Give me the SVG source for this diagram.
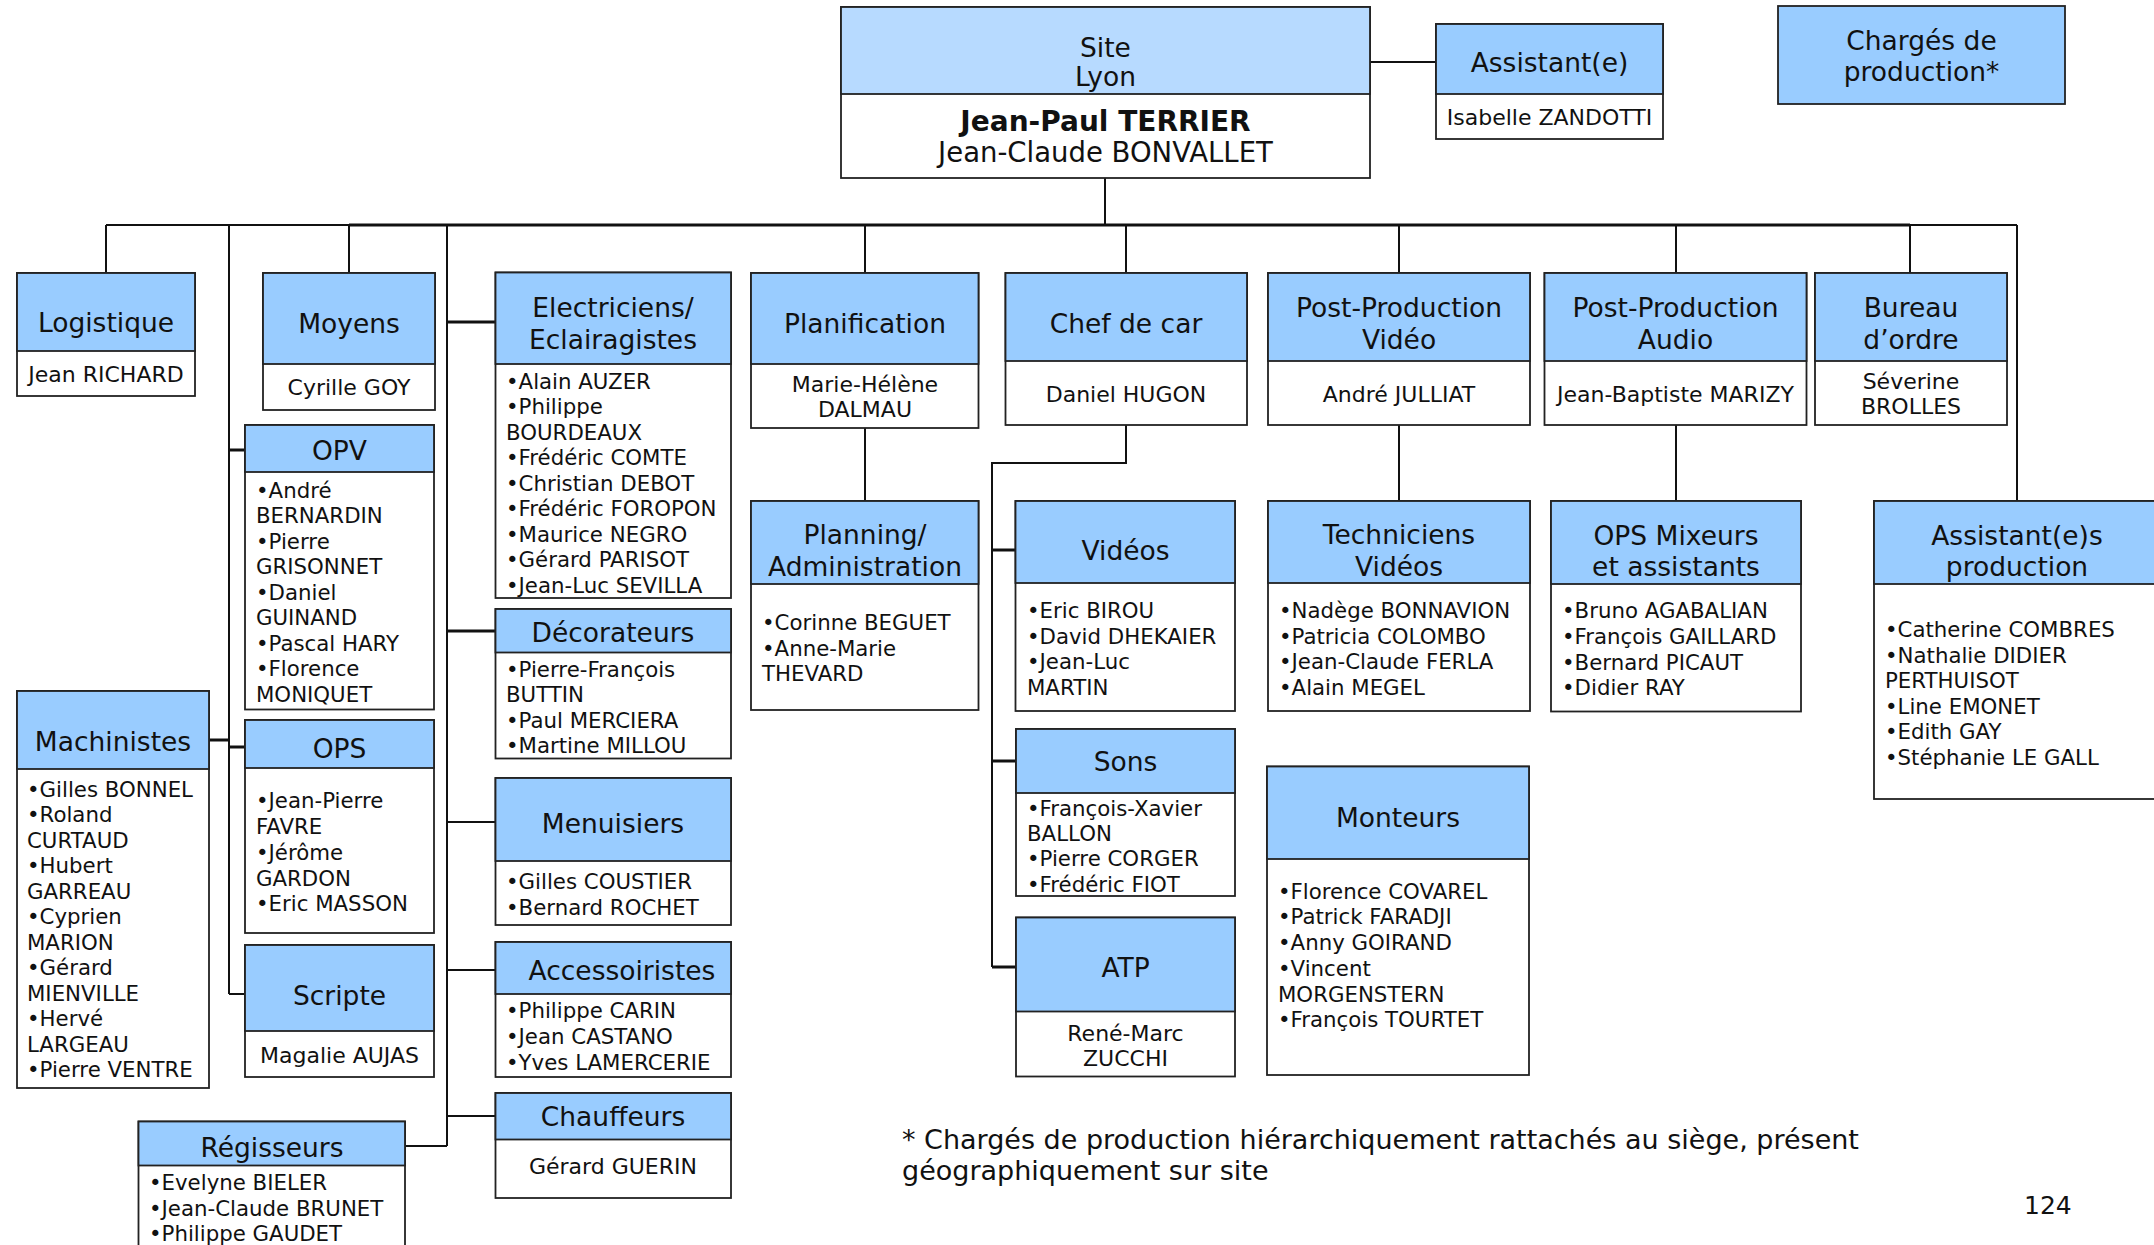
<svg xmlns="http://www.w3.org/2000/svg" width="2154" height="1245" viewBox="0 0 2154 1245">
<style>
  .bx { fill:#ffffff; stroke:#222222; stroke-width:1.8; }
  .hd { fill:#99CCFF; stroke:#222222; stroke-width:1.8; }
  .hs { fill:#B7DAFF; stroke:#222222; stroke-width:1.8; }
  text { font-family:"DejaVu Sans", Verdana, sans-serif; fill:#111111; }
  .h { font-size:26.5px; text-anchor:middle; }
  .n { font-size:22px; text-anchor:middle; }
  .l { font-size:21.3px; }
  .c { fill:none; stroke:#111111; stroke-width:2; }
  .t { fill:none; stroke:#111111; stroke-width:3; }
</style>
<rect width="2154" height="1245" fill="#ffffff"/>

<g id="connectors">
  <line class="c" x1="1370" y1="62" x2="1436" y2="62"/>
  <line class="c" x1="1105" y1="178" x2="1105" y2="225"/>
  <line class="c" x1="106" y1="225" x2="349" y2="225"/>
  <line class="t" x1="349" y1="225" x2="1910" y2="225"/>
  <line class="c" x1="1910" y1="225" x2="2017" y2="225"/>
  <line class="c" x1="106" y1="225" x2="106" y2="273"/>
  <line class="c" x1="229" y1="225" x2="229" y2="994"/>
  <line class="t" x1="229" y1="450" x2="245" y2="450"/>
  <line class="t" x1="209" y1="740" x2="229" y2="740"/>
  <line class="t" x1="229" y1="747" x2="245" y2="747"/>
  <line class="c" x1="229" y1="994" x2="245" y2="994"/>
  <line class="c" x1="349" y1="225" x2="349" y2="273"/>
  <line class="c" x1="447" y1="225" x2="447" y2="1146"/>
  <line class="t" x1="447" y1="322" x2="495.5" y2="322"/>
  <line class="t" x1="447" y1="631" x2="495.5" y2="631"/>
  <line class="c" x1="447" y1="822" x2="495.5" y2="822"/>
  <line class="c" x1="447" y1="970" x2="495.5" y2="970"/>
  <line class="c" x1="447" y1="1116" x2="495.5" y2="1116"/>
  <line class="c" x1="405" y1="1146" x2="447" y2="1146"/>
  <line class="c" x1="865" y1="225" x2="865" y2="273"/>
  <line class="c" x1="865" y1="428" x2="865" y2="501"/>
  <line class="c" x1="1126" y1="225" x2="1126" y2="273"/>
  <polyline class="c" points="1126,425 1126,463 992,463 992,967"/>
  <line class="t" x1="992" y1="550" x2="1016" y2="550"/>
  <line class="t" x1="992" y1="761" x2="1016" y2="761"/>
  <line class="t" x1="992" y1="967" x2="1016" y2="967"/>
  <line class="c" x1="1399" y1="225" x2="1399" y2="273"/>
  <line class="c" x1="1399" y1="425" x2="1399" y2="501"/>
  <line class="c" x1="1676" y1="225" x2="1676" y2="273"/>
  <line class="c" x1="1676" y1="425" x2="1676" y2="501"/>
  <line class="c" x1="1910" y1="225" x2="1910" y2="273"/>
  <line class="c" x1="2017" y1="225" x2="2017" y2="501"/>
</g>

<g id="site">
  <rect class="bx" x="841" y="7" width="529" height="171"/>
  <rect class="hs" x="841" y="7" width="529" height="87"/>
  <text class="h" x="1105.5" y="57">Site</text>
  <text class="h" x="1105.5" y="86">Lyon</text>
  <text x="1105.5" y="131" font-size="28" font-weight="bold" text-anchor="middle">Jean-Paul TERRIER</text>
  <text x="1105.5" y="162" font-size="27.5" text-anchor="middle">Jean-Claude BONVALLET</text>
</g>

<g id="assistant">
  <rect class="bx" x="1436" y="24" width="227" height="115"/>
  <rect class="hd" x="1436" y="24" width="227" height="70"/>
  <text class="h" x="1549.5" y="72">Assistant(e)</text>
  <text class="n" x="1549.5" y="125">Isabelle ZANDOTTI</text>
</g>

<g id="charges">
  <rect class="hd" x="1778" y="6" width="287" height="98"/>
  <text class="h" x="1921.5" y="50">Chargés de</text>
  <text class="h" x="1921.5" y="81">production*</text>
</g>

<g id="logistique">
  <rect class="bx" x="17" y="273" width="178" height="123"/>
  <rect class="hd" x="17" y="273" width="178" height="78"/>
  <text class="h" x="106" y="332">Logistique</text>
  <text class="n" x="106" y="382">Jean RICHARD</text>
</g>

<g id="moyens">
  <rect class="bx" x="263" y="273" width="172" height="137"/>
  <rect class="hd" x="263" y="273" width="172" height="91"/>
  <text class="h" x="349" y="333">Moyens</text>
  <text class="n" x="349" y="395">Cyrille GOY</text>
</g>

<g id="electriciens">
  <rect class="bx" x="495.5" y="272.5" width="235.5" height="325.5"/>
  <rect class="hd" x="495.5" y="272.5" width="235.5" height="91.5"/>
  <text class="h" x="613" y="317">Electriciens/</text>
  <text class="h" x="613" y="348.5">Eclairagistes</text>
  <text class="l" x="506" y="388.5">•Alain AUZER</text>
  <text class="l" x="506" y="414">•Philippe</text>
  <text class="l" x="506" y="439.5">BOURDEAUX</text>
  <text class="l" x="506" y="465">•Frédéric COMTE</text>
  <text class="l" x="506" y="490.5">•Christian DEBOT</text>
  <text class="l" x="506" y="516">•Frédéric FOROPON</text>
  <text class="l" x="506" y="541.5">•Maurice NEGRO</text>
  <text class="l" x="506" y="567">•Gérard PARISOT</text>
  <text class="l" x="506" y="592.5">•Jean-Luc SEVILLA</text>
</g>

<g id="planification">
  <rect class="bx" x="751" y="273" width="227.5" height="155"/>
  <rect class="hd" x="751" y="273" width="227.5" height="91"/>
  <text class="h" x="865" y="333">Planification</text>
  <text class="n" x="865" y="391.5">Marie-Hélène</text>
  <text class="n" x="865" y="416.5">DALMAU</text>
</g>

<g id="chef-de-car">
  <rect class="bx" x="1005.5" y="273" width="241.5" height="152"/>
  <rect class="hd" x="1005.5" y="273" width="241.5" height="88"/>
  <text class="h" x="1126" y="333">Chef de car</text>
  <text class="n" x="1126" y="401.5">Daniel HUGON</text>
</g>

<g id="pp-video">
  <rect class="bx" x="1268" y="273" width="262" height="152"/>
  <rect class="hd" x="1268" y="273" width="262" height="88"/>
  <text class="h" x="1399" y="317">Post-Production</text>
  <text class="h" x="1399" y="348.5">Vidéo</text>
  <text class="n" x="1399" y="401.5">André JULLIAT</text>
</g>

<g id="pp-audio">
  <rect class="bx" x="1544.5" y="273" width="262" height="152"/>
  <rect class="hd" x="1544.5" y="273" width="262" height="88"/>
  <text class="h" x="1675.5" y="317">Post-Production</text>
  <text class="h" x="1675.5" y="348.5">Audio</text>
  <text class="n" x="1675.5" y="401.5">Jean-Baptiste MARIZY</text>
</g>

<g id="bureau-ordre">
  <rect class="bx" x="1815" y="273" width="192" height="152"/>
  <rect class="hd" x="1815" y="273" width="192" height="88"/>
  <text class="h" x="1911" y="317">Bureau</text>
  <text class="h" x="1911" y="348.5">d’ordre</text>
  <text class="n" x="1911" y="389">Séverine</text>
  <text class="n" x="1911" y="414">BROLLES</text>
</g>

<g id="opv">
  <rect class="bx" x="245" y="425" width="189" height="284.5"/>
  <rect class="hd" x="245" y="425" width="189" height="47"/>
  <text class="h" x="339.5" y="459.5">OPV</text>
  <text class="l" x="256" y="497.5">•André</text>
  <text class="l" x="256" y="523">BERNARDIN</text>
  <text class="l" x="256" y="548.5">•Pierre</text>
  <text class="l" x="256" y="574">GRISONNET</text>
  <text class="l" x="256" y="599.5">•Daniel</text>
  <text class="l" x="256" y="625">GUINAND</text>
  <text class="l" x="256" y="650.5">•Pascal HARY</text>
  <text class="l" x="256" y="676">•Florence</text>
  <text class="l" x="256" y="701.5">MONIQUET</text>
</g>

<g id="planning">
  <rect class="bx" x="751" y="501" width="227.5" height="209"/>
  <rect class="hd" x="751" y="501" width="227.5" height="83"/>
  <text class="h" x="865" y="544">Planning/</text>
  <text class="h" x="865" y="575.5">Administration</text>
  <text class="l" x="762" y="630">•Corinne BEGUET</text>
  <text class="l" x="762" y="655.5">•Anne-Marie</text>
  <text class="l" x="762" y="681">THEVARD</text>
</g>

<g id="videos">
  <rect class="bx" x="1015.5" y="501" width="219.5" height="210"/>
  <rect class="hd" x="1015.5" y="501" width="219.5" height="82"/>
  <text class="h" x="1125.5" y="560">Vidéos</text>
  <text class="l" x="1027" y="618">•Eric BIROU</text>
  <text class="l" x="1027" y="643.5">•David DHEKAIER</text>
  <text class="l" x="1027" y="669">•Jean-Luc</text>
  <text class="l" x="1027" y="694.5">MARTIN</text>
</g>

<g id="techniciens-videos">
  <rect class="bx" x="1268" y="501" width="262" height="210"/>
  <rect class="hd" x="1268" y="501" width="262" height="82"/>
  <text class="h" x="1399" y="544">Techniciens</text>
  <text class="h" x="1399" y="575.5">Vidéos</text>
  <text class="l" x="1279" y="618">•Nadège BONNAVION</text>
  <text class="l" x="1279" y="643.5">•Patricia COLOMBO</text>
  <text class="l" x="1279" y="669">•Jean-Claude FERLA</text>
  <text class="l" x="1279" y="694.5">•Alain MEGEL</text>
</g>

<g id="ops-mixeurs">
  <rect class="bx" x="1551" y="501" width="250" height="210.5"/>
  <rect class="hd" x="1551" y="501" width="250" height="83"/>
  <text class="h" x="1676" y="544.5">OPS Mixeurs</text>
  <text class="h" x="1676" y="575.5">et assistants</text>
  <text class="l" x="1562" y="618">•Bruno AGABALIAN</text>
  <text class="l" x="1562" y="644">•François GAILLARD</text>
  <text class="l" x="1562" y="669.5">•Bernard PICAUT</text>
  <text class="l" x="1562" y="695">•Didier RAY</text>
</g>

<g id="assistants-production">
  <rect class="bx" x="1874" y="501" width="290" height="298"/>
  <rect class="hd" x="1874" y="501" width="290" height="83"/>
  <text class="h" x="2017" y="544.5">Assistant(e)s</text>
  <text class="h" x="2017" y="575.5">production</text>
  <text class="l" x="1885" y="637">•Catherine COMBRES</text>
  <text class="l" x="1885" y="662.5">•Nathalie DIDIER</text>
  <text class="l" x="1885" y="688">PERTHUISOT</text>
  <text class="l" x="1885" y="713.5">•Line EMONET</text>
  <text class="l" x="1885" y="739">•Edith GAY</text>
  <text class="l" x="1885" y="764.5">•Stéphanie LE GALL</text>
</g>

<g id="machinistes">
  <rect class="bx" x="17" y="691" width="192" height="397"/>
  <rect class="hd" x="17" y="691" width="192" height="78"/>
  <text class="h" x="113" y="751">Machinistes</text>
  <text class="l" x="27" y="796.5">•Gilles BONNEL</text>
  <text class="l" x="27" y="822">•Roland</text>
  <text class="l" x="27" y="847.5">CURTAUD</text>
  <text class="l" x="27" y="873">•Hubert</text>
  <text class="l" x="27" y="898.5">GARREAU</text>
  <text class="l" x="27" y="924">•Cyprien</text>
  <text class="l" x="27" y="949.5">MARION</text>
  <text class="l" x="27" y="975">•Gérard</text>
  <text class="l" x="27" y="1000.5">MIENVILLE</text>
  <text class="l" x="27" y="1026">•Hervé</text>
  <text class="l" x="27" y="1051.5">LARGEAU</text>
  <text class="l" x="27" y="1077">•Pierre VENTRE</text>
</g>

<g id="ops">
  <rect class="bx" x="245" y="720" width="189" height="213"/>
  <rect class="hd" x="245" y="720" width="189" height="48"/>
  <text class="h" x="339.5" y="758">OPS</text>
  <text class="l" x="256" y="808">•Jean-Pierre</text>
  <text class="l" x="256" y="834">FAVRE</text>
  <text class="l" x="256" y="860">•Jérôme</text>
  <text class="l" x="256" y="885.5">GARDON</text>
  <text class="l" x="256" y="911">•Eric MASSON</text>
</g>

<g id="scripte">
  <rect class="bx" x="245" y="945" width="189" height="132"/>
  <rect class="hd" x="245" y="945" width="189" height="86"/>
  <text class="h" x="339.5" y="1005">Scripte</text>
  <text class="n" x="339.5" y="1063">Magalie AUJAS</text>
</g>

<g id="decorateurs">
  <rect class="bx" x="495.5" y="609" width="235.5" height="149.5"/>
  <rect class="hd" x="495.5" y="609" width="235.5" height="43.5"/>
  <text class="h" x="613" y="641.5">Décorateurs</text>
  <text class="l" x="506" y="677">•Pierre-François</text>
  <text class="l" x="506" y="702">BUTTIN</text>
  <text class="l" x="506" y="727.5">•Paul MERCIERA</text>
  <text class="l" x="506" y="753">•Martine MILLOU</text>
</g>

<g id="menuisiers">
  <rect class="bx" x="495.5" y="778" width="235.5" height="147"/>
  <rect class="hd" x="495.5" y="778" width="235.5" height="83"/>
  <text class="h" x="613" y="832.5">Menuisiers</text>
  <text class="l" x="506" y="889">•Gilles COUSTIER</text>
  <text class="l" x="506" y="915">•Bernard ROCHET</text>
</g>

<g id="accessoiristes">
  <rect class="bx" x="495.5" y="942" width="235.5" height="135"/>
  <rect class="hd" x="495.5" y="942" width="235.5" height="52"/>
  <text class="h" x="622" y="980">Accessoiristes</text>
  <text class="l" x="506" y="1018">•Philippe CARIN</text>
  <text class="l" x="506" y="1044">•Jean CASTANO</text>
  <text class="l" x="506" y="1070">•Yves LAMERCERIE</text>
</g>

<g id="chauffeurs">
  <rect class="bx" x="495.5" y="1093" width="235.5" height="105"/>
  <rect class="hd" x="495.5" y="1093" width="235.5" height="46.5"/>
  <text class="h" x="613" y="1125.5">Chauffeurs</text>
  <text class="n" x="613" y="1174">Gérard GUERIN</text>
</g>

<g id="regisseurs">
  <rect class="bx" x="138.5" y="1121.5" width="266.5" height="140"/>
  <rect class="hd" x="138.5" y="1121.5" width="266.5" height="44"/>
  <text class="h" x="272" y="1156.5">Régisseurs</text>
  <text class="l" x="149" y="1190">•Evelyne BIELER</text>
  <text class="l" x="149" y="1216">•Jean-Claude BRUNET</text>
  <text class="l" x="149" y="1241">•Philippe GAUDET</text>
</g>

<g id="sons">
  <rect class="bx" x="1016" y="729" width="219" height="167"/>
  <rect class="hd" x="1016" y="729" width="219" height="64"/>
  <text class="h" x="1125.5" y="770.5">Sons</text>
  <text class="l" x="1027" y="816">•François-Xavier</text>
  <text class="l" x="1027" y="840.5">BALLON</text>
  <text class="l" x="1027" y="866">•Pierre CORGER</text>
  <text class="l" x="1027" y="891.5">•Frédéric FIOT</text>
</g>

<g id="atp">
  <rect class="bx" x="1016" y="917.5" width="219" height="159"/>
  <rect class="hd" x="1016" y="917.5" width="219" height="94"/>
  <text class="h" x="1125.5" y="976.5">ATP</text>
  <text class="n" x="1125.5" y="1040.5">René-Marc</text>
  <text class="n" x="1125.5" y="1066">ZUCCHI</text>
</g>

<g id="monteurs">
  <rect class="bx" x="1267" y="766.5" width="262" height="308.5"/>
  <rect class="hd" x="1267" y="766.5" width="262" height="92.5"/>
  <text class="h" x="1398" y="826.5">Monteurs</text>
  <text class="l" x="1278" y="898.5">•Florence COVAREL</text>
  <text class="l" x="1278" y="924">•Patrick FARADJI</text>
  <text class="l" x="1278" y="950">•Anny GOIRAND</text>
  <text class="l" x="1278" y="975.5">•Vincent</text>
  <text class="l" x="1278" y="1001.5">MORGENSTERN</text>
  <text class="l" x="1278" y="1027">•François TOURTET</text>
</g>

<g id="footnote">
  <text x="902" y="1149" font-size="27">* Chargés de production hiérarchiquement rattachés au siège, présent</text>
  <text x="902" y="1180" font-size="27">géographiquement sur site</text>
  <text x="2024" y="1214" font-size="25">124</text>
</g>
</svg>
